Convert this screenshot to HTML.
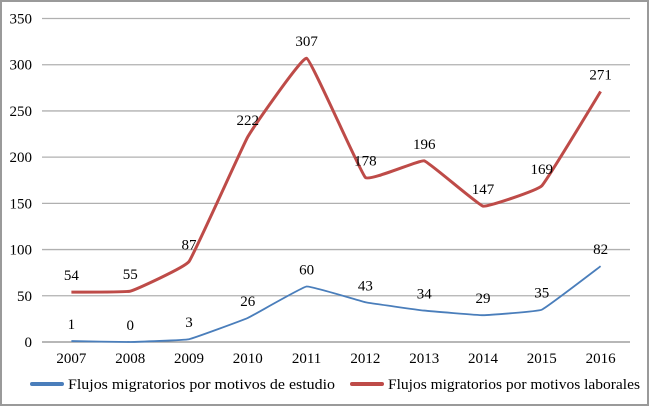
<!DOCTYPE html>
<html><head><meta charset="utf-8"><style>
body{margin:0;background:#fff}
svg{display:block;font-family:"Liberation Serif",serif}
</style></head><body>
<svg id="c" width="650" height="407">
<rect x="1" y="1" width="647" height="404" fill="#fff" stroke="#9a9a9a" stroke-width="2"/>
<g id="grid"></g><g id="series"></g><g id="labels"></g>
<g>
<line x1="32" y1="384" x2="62" y2="384" stroke="#4a7ebb" stroke-width="4" stroke-linecap="round"/>
<text x="68" y="389" font-size="15" textLength="267" lengthAdjust="spacingAndGlyphs">Flujos migratorios por motivos de estudio</text>
<line x1="352" y1="384" x2="382" y2="384" stroke="#be4b48" stroke-width="4" stroke-linecap="round"/>
<text x="388" y="389" font-size="15" textLength="252" lengthAdjust="spacingAndGlyphs">Flujos migratorios por motivos laborales</text>
</g>
</svg>
<script>
const categories=["2007","2008","2009","2010","2011","2012","2013","2014","2015","2016"];
const estudio=[1,0,3,26,60,43,34,29,35,82];
const laborales=[54,55,87,222,307,178,196,147,169,271];
const yTicks=[0,50,100,150,200,250,300,350];
const NS="http://www.w3.org/2000/svg";
const x0=42,x1=630,yb=342,yt=18.5,ymax=350;
const step=(x1-x0)/categories.length;
const X=i=>x0+step*(i+0.5);
const Y=v=>yb-(v/ymax)*(yb-yt);
function mk(t,a,p){const e=document.createElementNS(NS,t);for(const k in a)e.setAttribute(k,a[k]);p.appendChild(e);return e;}
const grid=document.getElementById('grid'),ser=document.getElementById('series'),lab=document.getElementById('labels');
yTicks.forEach(v=>{
 const l=mk('line',{x1:x0,x2:x1,y1:Y(v),y2:Y(v),stroke:v===0?'#8c8c8c':'#b0b0b0','stroke-width':1.3},grid);
 
 
 const t=mk('text',{x:32,y:Y(v)+5,'font-size':15,'text-anchor':'end'},grid);
 t.textContent=v;
 
 
});
categories.forEach((c,i)=>{
 const t=mk('text',{x:X(i),y:363,'font-size':15,'text-anchor':'middle'},grid);
 t.textContent=c;
 
 
});
function path(vals){
 const p=vals.map((v,i)=>[X(i),Y(v)]);
 let d='M'+p[0][0]+','+p[0][1];const k=0.04;
 for(let i=0;i<p.length-1;i++){
  const a=p[i-1]||p[i],b=p[i],c=p[i+1],e=p[i+2]||c;
  d+=` C${b[0]+(c[0]-a[0])*k},${b[1]+(c[1]-a[1])*k} ${c[0]-(e[0]-b[0])*k},${c[1]-(e[1]-b[1])*k} ${c[0]},${c[1]}`;
 }
 return d;
}
[[estudio,'#4a7ebb',1.8,'estudio'],[laborales,'#be4b48',3,'laborales']].forEach(([vals,col,w,n])=>{
 const p=mk('path',{d:path(vals),fill:'none',stroke:col,'stroke-width':w},ser);
 
 
 vals.forEach((v,i)=>{
  const t=mk('text',{x:X(i),y:Y(v)-12,'font-size':15,'text-anchor':'middle'},lab);
  t.textContent=v;
  
  
 });
});
</script>
</body></html>
